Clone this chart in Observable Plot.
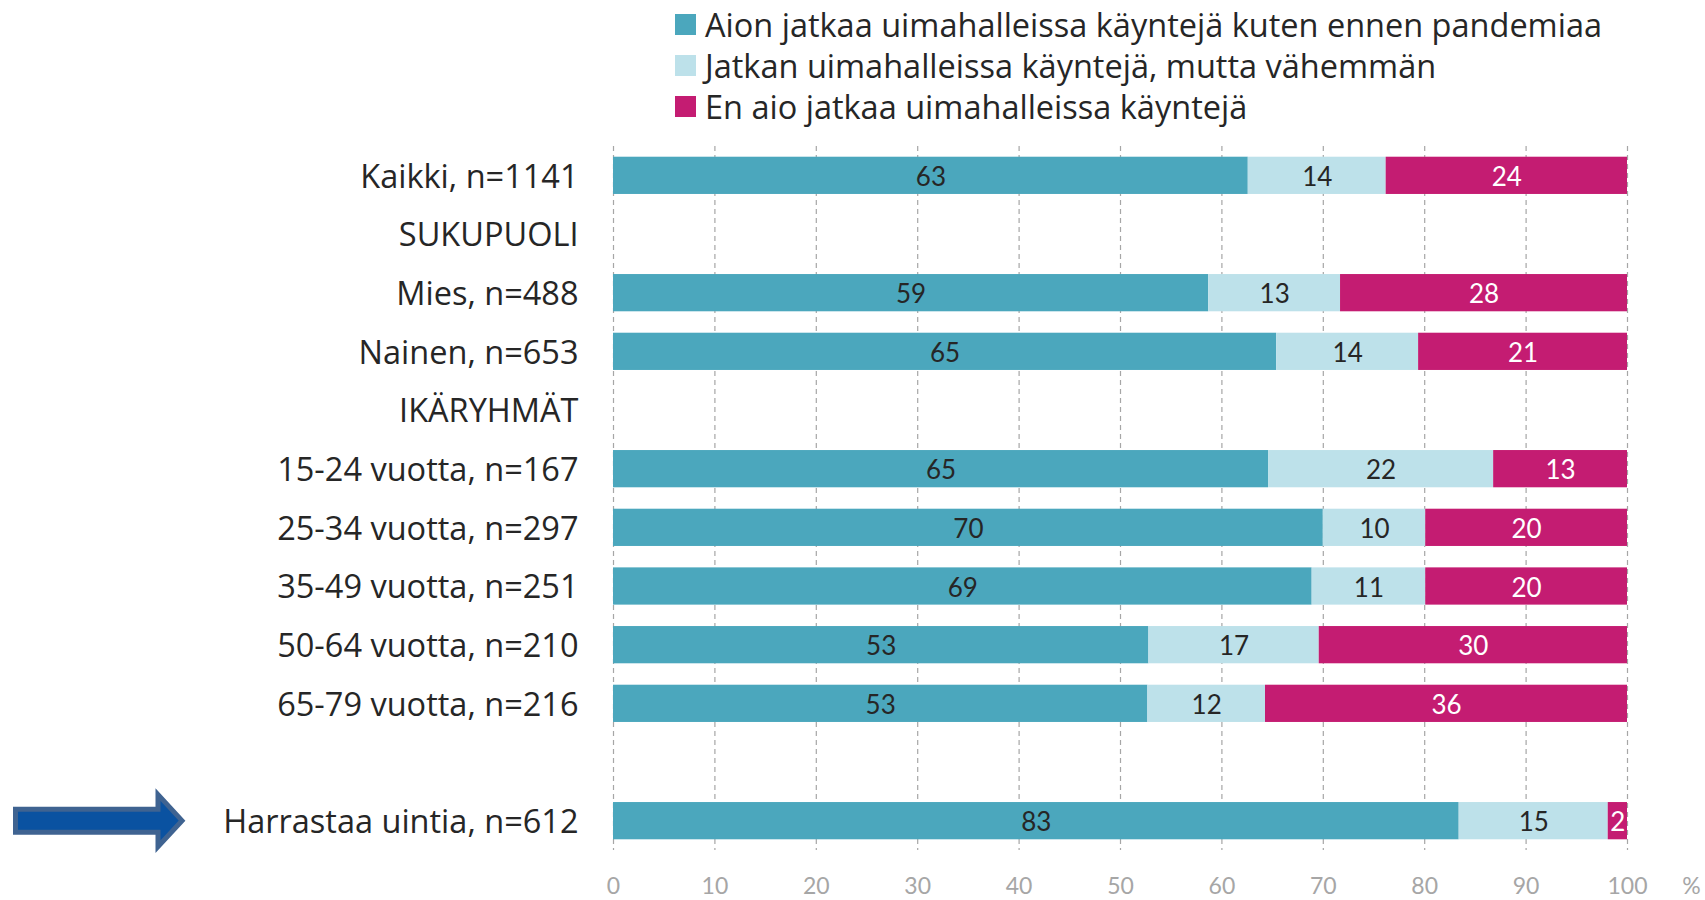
<!DOCTYPE html>
<html>
<head>
<meta charset="utf-8">
<script src="https://cdn.jsdelivr.net/npm/d3@7"></script>
<script src="https://cdn.jsdelivr.net/npm/@observablehq/plot@0.6"></script>
<style>
  html, body { margin: 0; padding: 0; background: #fff; }
  #wrap { width: 1705px; font-family: "Open Sans", Lato, sans-serif; color: #262626; }
  #legend { position: relative; height: 125px; }
  .item { position: absolute; left: 675px; height: 40px; display: flex; align-items: center; font-size: 32.5px; white-space: nowrap; }
  .sw { width: 21px; height: 21px; margin-right: 9px; flex: none; }
  #chart svg { display: block; }
</style>
</head>
<body>
<div id="wrap">
  <div id="legend"></div>
  <div id="chart"></div>
</div>
<script>
const categories = [
  "Kaikki, n=1141", "SUKUPUOLI", "Mies, n=488", "Nainen, n=653", "IKÄRYHMÄT",
  "15-24 vuotta, n=167", "25-34 vuotta, n=297", "35-49 vuotta, n=251",
  "50-64 vuotta, n=210", "65-79 vuotta, n=216", "", "Harrastaa uintia, n=612"
];
const seriesNames = [
  "Aion jatkaa uimahalleissa käyntejä kuten ennen pandemiaa",
  "Jatkan uimahalleissa käyntejä, mutta vähemmän",
  "En aio jatkaa uimahalleissa käyntejä"
];
const seriesColors = ["#4ba7bd", "#bde1ea", "#c41c72"];
const jatkaa   = [62.6, null, 58.7, 65.4, null, 64.6, 70.0, 68.9, 52.8, 52.7, null, 83.4];
const vahemman = [13.6, null, 13.0, 14.0, null, 22.2, 10.1, 11.2, 16.8, 11.6, null, 14.7];
const lopettaa = [23.8, null, 28.3, 20.6, null, 13.2, 19.9, 19.9, 30.4, 35.7, null, 1.9];
const xTicks = [0, 10, 20, 30, 40, 50, 60, 70, 80, 90, 100];
const arrowRow = "Harrastaa uintia, n=612";

const table = [];
categories.forEach((c, i) => {
  [jatkaa, vahemman, lopettaa].forEach((arr, j) => {
    if (arr[i] != null) table.push({cat: c, series: seriesNames[j], value: arr[i]});
  });
});

// legend
const legend = document.getElementById("legend");
const legendCenters = [24.3, 65.3, 106.3];
seriesNames.forEach((s, i) => {
  const it = document.createElement("div");
  it.className = "item";
  it.style.top = (legendCenters[i] - 20) + "px";
  const sw = document.createElement("span");
  sw.className = "sw";
  sw.style.background = seriesColors[i];
  const tx = document.createElement("span");
  tx.textContent = s;
  it.appendChild(sw); it.appendChild(tx);
  legend.appendChild(it);
});

const labelText = d => String(Math.round(d.value));

const arrowMark = (index, scales, values, dimensions) => {
  const sy = scales.y;
  let bw = 0;
  if (scales.scales && scales.scales.y && scales.scales.y.bandwidth != null) bw = scales.scales.y.bandwidth;
  else if (typeof sy.bandwidth === "function") bw = sy.bandwidth();
  else if (sy.bandwidth != null) bw = sy.bandwidth;
  const cy = sy(arrowRow) + bw / 2;
  const p = d3.path();
  p.moveTo(15.5, cy - 11.5);
  p.lineTo(158, cy - 11.5);
  p.lineTo(158, cy - 26);
  p.lineTo(182, cy);
  p.lineTo(158, cy + 26);
  p.lineTo(158, cy + 11.5);
  p.lineTo(15.5, cy + 11.5);
  p.closePath();
  const g = d3.create("svg:path")
    .attr("d", p.toString())
    .attr("fill", "#0a52a1")
    .attr("stroke", "#3f6391")
    .attr("stroke-width", 5)
    .attr("stroke-linejoin", "miter");
  return g.node();
};

const chart = Plot.plot({
  width: 1705,
  height: 775,
  marginTop: 21,
  marginBottom: 50,
  marginLeft: 613,
  marginRight: 78,
  style: {fontFamily: "Lato, 'Open Sans', sans-serif", background: "white", color: "#262626", overflow: "visible"},
  x: {domain: [0, 100], axis: null},
  y: {domain: categories, paddingInner: 0.365, paddingOuter: 0.1825, round: false, axis: null},
  color: {domain: seriesNames, range: seriesColors},
  marks: [
    Plot.gridX({ticks: xTicks, stroke: "#a6a6a6", strokeOpacity: 1, strokeDasharray: "5,4", strokeWidth: 1.2}),
    Plot.barX(table, Plot.stackX({x: "value", y: "cat", fill: "series"})),
    Plot.text(table, Plot.filter(d => d.series !== seriesNames[2],
      Plot.stackX({x: "value", y: "cat", text: labelText, fill: "#262626", fontSize: 26, dy: 2}))),
    Plot.text(table, Plot.filter(d => d.series === seriesNames[2],
      Plot.stackX({x: "value", y: "cat", text: labelText, fill: "white", fontSize: 26, dy: 2}))),
    Plot.axisX({ticks: xTicks, tickSize: 0, tickPadding: 27, fontSize: 23, fill: "#a6a6a6", color: "#a6a6a6", label: null}),
    Plot.text(["%"], {x: () => 100, frameAnchor: "bottom", lineAnchor: "top", dy: 27, dx: 64, text: d => d, fontSize: 23, fill: "#a6a6a6"}),
    Plot.axisY({tickSize: 0, tickPadding: 35, dy: 1.5, fontSize: 32.5, fontFamily: "'Open Sans', Lato, sans-serif", fill: "#262626", label: null}),
    arrowMark
  ]
});
document.getElementById("chart").appendChild(chart);
</script>
</body>
</html>
